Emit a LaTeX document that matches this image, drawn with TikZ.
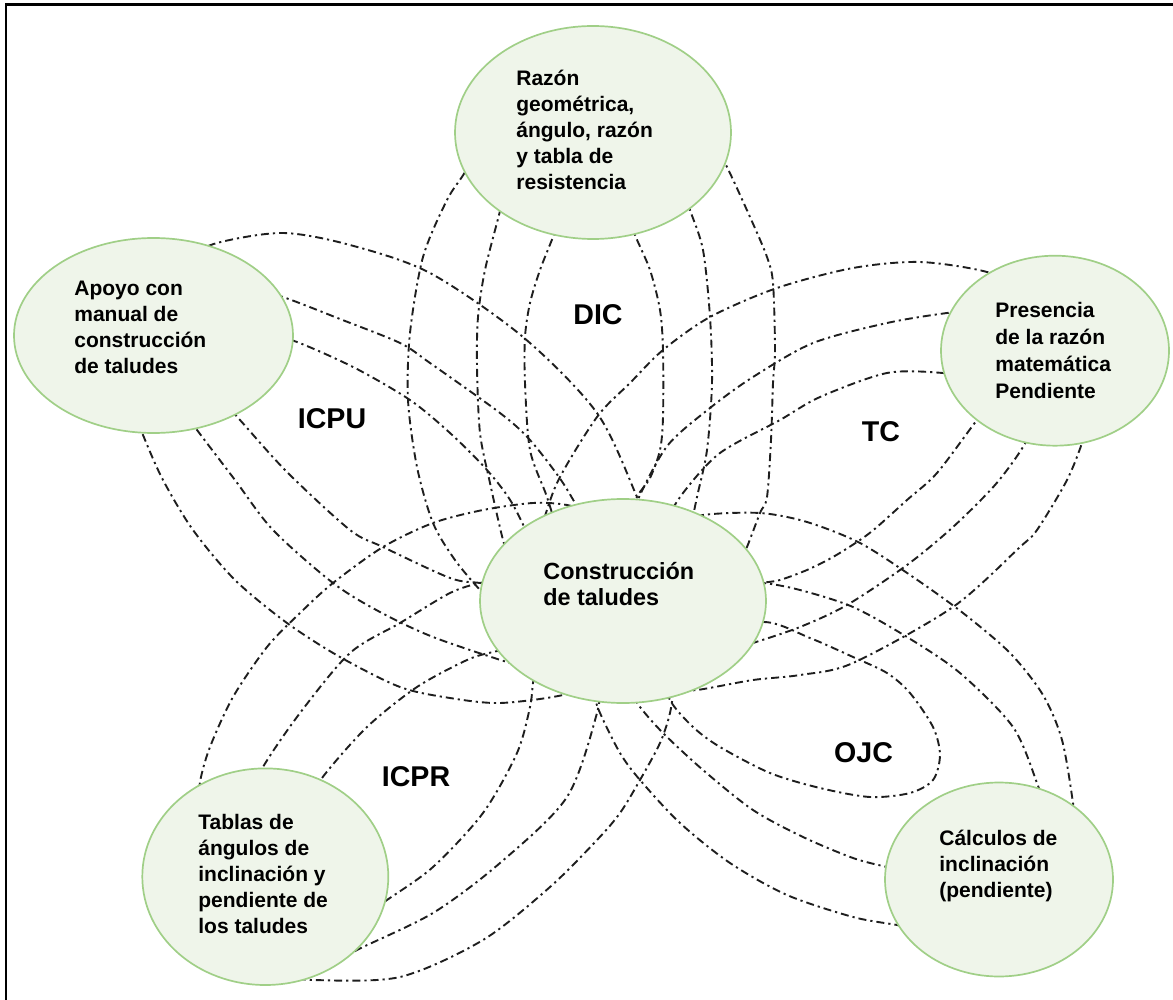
\documentclass[tikz,border=0pt]{standalone}
\usepackage{fontspec}
\setmainfont{Liberation Sans}
\usetikzlibrary{shapes.geometric}
\definecolor{conceptfill}{RGB}{239,245,234}
\definecolor{conceptline}{RGB}{160,207,135}
\definecolor{petalink}{RGB}{30,30,30}
\begin{document}
\begin{tikzpicture}[x=0.5pt, y=-0.5pt,
  concept/.style={ellipse, draw=conceptline, fill=conceptfill, line width=0.85pt, inner sep=0pt},
  petal/.style={draw=petalink, line width=0.95pt, dash pattern=on 4pt off 2pt on 1.1pt off 2pt},
  nodetext/.style={font=\fontsize{10.5}{13}\selectfont\bfseries, align=left, anchor=west, inner sep=0pt},
  lbl/.style={font=\fontsize{14.3}{16}\selectfont\bfseries, inner sep=0pt},
  frame/.style={draw=black, line width=1.4pt}]

\useasboundingbox (0,0) rectangle (1173,1000);
\draw[frame] (6,1000) -- (6,4.5) -- (1173,4.5);

% ---------- petals (drawn first, the concept ellipses cover their ends) ----------
% ICPU: Apoyo <-> Construccion
\draw[petal] plot[smooth] coordinates {(175,262) (217,243) (283,233) (350,245) (430,273) (523,337) (597,413) (637,497) (655,545)};
\draw[petal] plot[smooth] coordinates {(240,285) (283,297) (340,319) (400,343) (430,363) (500,413) (530,440) (563,483) (590,530)};
\draw[petal] plot[smooth] coordinates {(255,330) (297,342) (355,368) (410,400) (450,433) (487,470) (512,503) (535,550)};
\draw[petal] plot[smooth] coordinates {(130,400) (143,435) (163,480) (193,530) (235,580) (287,623) (340,657) (400,687) (450,698) (500,703) (563,695) (600,680)};
\draw[petal] plot[smooth] coordinates {(175,400) (197,430) (235,480) (273,530) (333,583) (380,612) (433,637) (510,663) (545,672)};
\draw[petal] plot[smooth] coordinates {(215,392) (240,420) (287,472) (350,530) (383,547) (450,578) (480,583) (510,588)};

% DIC: Razon <-> Construccion
\draw[petal] plot[smooth] coordinates {(480,140) (465,172) (447,200) (423,257) (410,333) (408,400) (417,467) (433,523) (455,560) (480,590) (500,610)};
\draw[petal] plot[smooth] coordinates {(505,190) (499,215) (485,270) (478,317) (477,367) (480,433) (490,483) (503,540) (515,580)};
\draw[petal] plot[smooth] coordinates {(565,205) (553,237) (540,270) (530,303) (525,337) (525,383) (530,450) (547,497) (560,540)};
\draw[petal] plot[smooth] coordinates {(625,205) (635,235) (650,270) (660,310) (663,350) (663,417) (660,450) (650,478) (637,497) (625,530)};
\draw[petal] plot[smooth] coordinates {(680,180) (690,210) (703,250) (710,317) (712,383) (707,450) (697,497) (688,540)};
\draw[petal] plot[smooth] coordinates {(710,140) (725,163) (750,217) (767,257) (773,283) (775,350) (773,383) (771,440) (767,497) (760,513) (747,547) (735,575)};

% TC: Presencia <-> Construccion
\draw[petal] plot[smooth] coordinates {(1020,290) (987,272) (920,262) (853,268) (777,288) (710,317) (663,350) (630,383) (597,417) (557,483) (538,540)};
\draw[petal] plot[smooth] coordinates {(985,310) (947,313) (887,323) (813,343) (753,377) (710,408) (668,445) (640,495) (630,525)};
\draw[petal] plot[smooth] coordinates {(980,380) (943,373) (887,373) (820,397) (780,420) (720,453) (683,493) (660,530)};
\draw[petal] plot[smooth] coordinates {(995,400) (977,420) (937,473) (907,500) (877,527) (860,540) (833,557) (807,570) (780,580) (763,583) (740,590)};
\draw[petal] plot[smooth] coordinates {(1035,420) (1023,447) (995,485) (953,527) (907,565) (847,605) (800,627) (753,643) (730,650)};
\draw[petal] plot[smooth] coordinates {(1090,410) (1083,440) (1067,480) (1037,530) (1020,547) (953,607) (853,663) (800,675) (753,680) (697,690) (670,690)};

% ICPR: Tablas <-> Construccion
\draw[petal] plot[smooth] coordinates {(198,815) (200,782) (210,747) (233,697) (267,647) (300,613) (333,583) (383,547) (433,523) (483,510) (533,503) (567,505) (600,515)};
\draw[petal] plot[smooth] coordinates {(250,800) (263,767) (300,713) (350,653) (400,623) (450,593) (480,583) (505,580)};
\draw[petal] plot[smooth] coordinates {(305,810) (322,778) (367,727) (417,687) (467,660) (493,652) (515,648)};
\draw[petal] plot[smooth] coordinates {(370,912) (387,900) (433,867) (483,813) (517,753) (530,707) (533,683) (537,665)};
\draw[petal] plot[smooth] coordinates {(340,962) (357,950) (433,913) (500,863) (567,797) (597,713) (600,680)};
\draw[petal] plot[smooth] coordinates {(280,975) (313,980) (400,977) (483,940) (550,887) (597,840) (620,813) (640,780) (660,743) (670,713) (675,680)};

% Calculos <-> Construccion
\draw[petal] plot[smooth] coordinates {(740,585) (763,583) (800,590) (853,607) (907,637) (960,673) (1013,727) (1037,783) (1045,810)};
\draw[petal] plot[smooth] coordinates {(680,525) (703,515) (760,513) (807,522) (860,543) (913,577) (963,613) (1010,653) (1043,695) (1062,740) (1073,803) (1075,830)};
\draw[petal] plot[smooth] coordinates {(910,872) (887,867) (853,858) (803,837) (753,810) (703,770) (663,733) (640,707) (630,690)};
\draw[petal] plot[smooth] coordinates {(920,930) (897,925) (853,917) (787,895) (730,863) (680,823) (640,780) (620,753) (600,713) (592,690)};

% OJC loop
\draw[petal] plot[smooth cycle] coordinates {(700,640) (763,622) (810,638) (853,657) (887,673) (910,693) (933,727) (940,755) (933,780) (910,793) (870,797) (820,788) (770,773) (720,747) (693,727) (670,700) (665,670)};

% ---------- concept ellipses ----------
\node[concept, minimum width=138pt, minimum height=106.5pt] (razon) at (593,132.5) {};
\node[concept, minimum width=139.5pt, minimum height=97.5pt] (apoyo) at (153.5,335.5) {};
\node[concept, minimum width=114pt, minimum height=95pt] (presencia) at (1055,350.7) {};
\node[concept, minimum width=143pt, minimum height=102pt] (construccion) at (623,601) {};
\node[concept, minimum width=123pt, minimum height=108.3pt] (tablas) at (265.3,876.7) {};
\node[concept, minimum width=114pt, minimum height=97pt] (calculos) at (999,879.5) {};

% ---------- texts ----------
\node[nodetext] (razon-t) at (516,129.5) {Razón\\geométrica,\\ángulo, razón\\y tabla de\\resistencia};
\node[nodetext] (apoyo-t) at (74,327.5) {Apoyo con\\manual de\\construcción\\de taludes};
\node[nodetext, font=\fontsize{10.5}{13.5}\selectfont\bfseries] (presencia-t) at (995,350) {Presencia\\de la razón\\matemática\\Pendiente};
\node[nodetext, font=\fontsize{11.7}{13}\selectfont\bfseries] (construccion-t) at (543,584.5) {Construcción\\de taludes};
\node[nodetext] (tablas-t) at (198,873.8) {Tablas de\\ángulos de\\inclinación y\\pendiente de\\los taludes};
\node[nodetext] (calculos-t) at (939,865.7) {Cálculos de\\inclinación\\(pendiente)};

% ---------- petal labels ----------
\node[lbl] (dic) at (598,315) {DIC};
\node[lbl] (icpu) at (332,419) {ICPU};
\node[lbl] (tc) at (881,432) {TC};
\node[lbl] (icpr) at (416,777) {ICPR};
\node[lbl] (ojc) at (863.5,753) {OJC};
\end{tikzpicture}
\end{document}
